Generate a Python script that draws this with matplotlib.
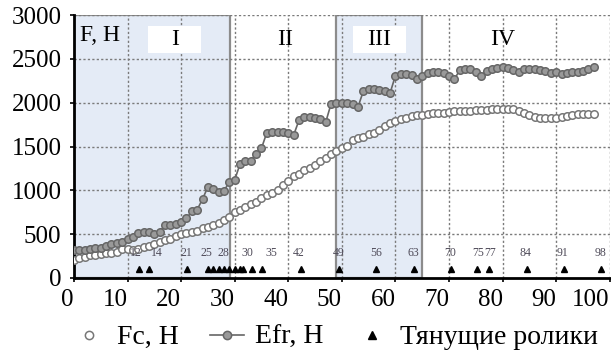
import numpy as np
import matplotlib
matplotlib.use("Agg")
from matplotlib import pyplot as plt
from matplotlib.patches import Rectangle

plt.rcParams["font.family"] = ["Liberation Serif", "DejaVu Serif"]

# Efr, H  (filled grey markers with line)
efr_x = np.arange(0, 98)
efr = [320, 320, 325, 335, 340, 345, 370, 390, 395, 410,
       440, 470, 510, 520, 520, 505, 530, 600, 610, 620,
       640, 680, 760, 780, 900, 1040, 1010, 980, 990, 1100,
       1120, 1300, 1330, 1340, 1420, 1480, 1660, 1670, 1670, 1670,
       1660, 1630, 1800, 1840, 1840, 1830, 1810, 1780, 1990, 2000,
       2000, 2000, 1980, 1950, 2130, 2160, 2160, 2150, 2130, 2110,
       2310, 2330, 2330, 2320, 2270, 2300, 2340, 2350, 2350, 2340,
       2310, 2270, 2370, 2390, 2390, 2350, 2310, 2360, 2390, 2400,
       2410, 2400, 2370, 2350, 2380, 2380, 2380, 2370, 2360, 2340,
       2350, 2330, 2340, 2345, 2350, 2360, 2390, 2410]

# Fc, H (open circles)
fc_x = np.arange(0, 98)
fc = [210, 230, 245, 260, 265, 275, 280, 290, 300, 330,
      335, 320, 330, 350, 365, 390, 410, 430, 450, 480,
      500, 515, 525, 540, 565, 585, 610, 630, 660, 700,
      750, 780, 810, 840, 870, 910, 945, 970, 1000, 1060,
      1110, 1160, 1190, 1230, 1260, 1290, 1330, 1370, 1410, 1450,
      1480, 1510, 1570, 1600, 1610, 1640, 1660, 1690, 1730, 1770,
      1790, 1810, 1830, 1845, 1860, 1865, 1870, 1878, 1880, 1885,
      1890, 1900, 1905, 1905, 1910, 1915, 1920, 1920, 1923, 1925,
      1925, 1927, 1930, 1900, 1885, 1860, 1840, 1830, 1825, 1820,
      1830, 1840, 1845, 1860, 1870, 1870, 1870, 1870]

# pulling rollers
roll_x = [12.1, 14.1, 21.1, 25.1, 26, 27, 28, 29, 30.1, 30.9, 31.6, 33.3, 35.1,
          42.4, 49.4, 56.4, 63.4, 70.3, 75.3, 77.4, 84.5, 91.5, 98.4]
roll_y = 100
roll_labels = ["12", "14", "21", "25", "28", "30", "35", "42", "49", "56",
               "63", "70", "75", "77", "84", "91", "98"]
roll_label_x = [11.6, 15.4, 21, 24.7, 27.9, 32.4, 36.9, 42, 49.4, 56.5,
                63.4, 70.3, 75.4, 77.7, 84.2, 91.2, 98.2]

zones = [(0, 29.2), (49, 65)]
zone_names = ["I", "II", "III", "IV"]
zone_name_x = [18.8, 39.4, 57, 80]

fig = plt.figure(figsize=(6.11, 3.51), dpi=100)
ax = fig.add_axes([0.121, 0.208, 0.877, 0.749])

for a, b in zones:
    ax.add_patch(Rectangle((a, 0), b - a, 3000, facecolor="#e4ebf6",
                           edgecolor="#8c8c8c", lw=1.6, zorder=0))

for xv in range(10, 101, 10):
    ax.axvline(xv, color="#7a7a7a", ls=(0, (1.6, 1.6)), lw=1, zorder=1)
for yv in range(500, 3001, 500):
    ax.axhline(yv, color="#7a7a7a", ls=(0, (1.6, 1.6)), lw=1, zorder=1)

# white boxes behind I and III
for xc in (zone_name_x[0], zone_name_x[2]):
    ax.add_patch(Rectangle((xc - 5, 2565), 10, 310, facecolor="white",
                           edgecolor="none", zorder=2))

ax.plot(fc_x, fc, ls="none", marker="o", ms=5.4, mfc="white", mec="#777777",
        mew=1.1, zorder=3, label="Fc, H")
ax.plot(efr_x, efr, color="#666666", lw=1.2, marker="o", ms=5.4, mfc="#999999",
        mec="#666666", mew=1.1, zorder=4, label="Efr, H")
ax.plot(roll_x, [roll_y] * len(roll_x), ls="none", marker="^", ms=5,
        color="black", zorder=5, label="Тянущие ролики")

for t, xv in zip(roll_labels, roll_label_x):
    ax.text(xv, 280, t, ha="center", va="center", fontsize=8.5,
            color="#4e4a58", zorder=6)

for t, xv in zip(zone_names, zone_name_x):
    ax.text(xv, 2720, t, ha="center", va="center", fontsize=17, zorder=6)
ax.text(1.2, 2770, "F, H", ha="left", va="center", fontsize=17, zorder=6)

ax.set_xlim(0, 100)
ax.set_ylim(0, 3000)
ax.set_xticks(range(0, 101, 10))
ax.set_yticks(range(0, 3001, 500))
ax.tick_params(labelsize=18, length=3, width=1.2)
ax.tick_params(axis="y", pad=6)
ax.tick_params(axis="x", pad=5)
for lab in ax.get_xticklabels():
    lab.set_horizontalalignment("right")
for s in ("top", "right"):
    ax.spines[s].set_visible(False)
ax.spines["left"].set_linewidth(2)
ax.spines["bottom"].set_linewidth(2)

leg = fig.legend(*ax.get_legend_handles_labels(), loc="center",
                 bbox_to_anchor=(0.548, 0.038), ncol=3, frameon=False,
                 fontsize=20, handlelength=1.2, handletextpad=0.4,
                 columnspacing=1.15, borderpad=0, markerscale=1.1)

fig.savefig("out.png", dpi=100)
